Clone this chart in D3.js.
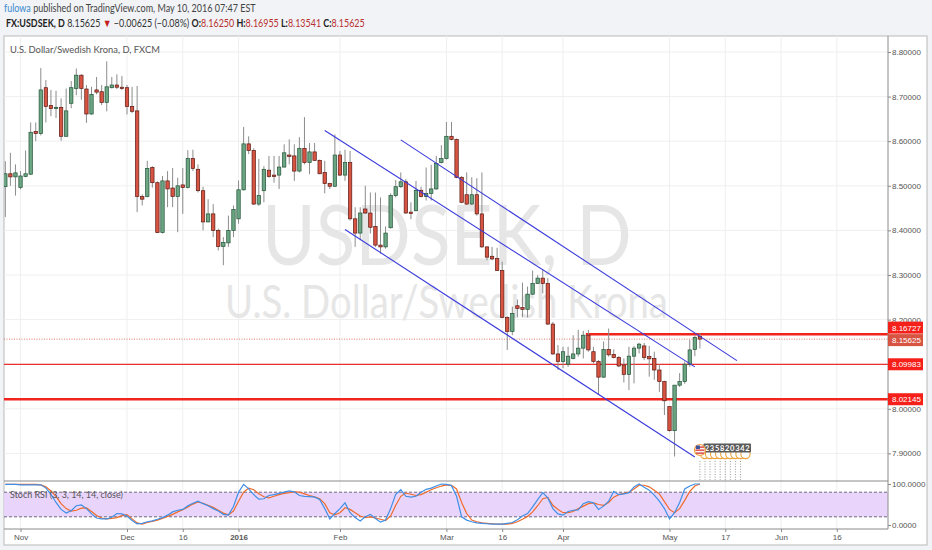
<!DOCTYPE html>
<html>
<head>
<meta charset="utf-8">
<script src="https://cdn.jsdelivr.net/npm/d3@7"></script>
<style>
  body { margin: 0; background: #f1f3f6; }
  svg { display: block; }
</style>
</head>
<body>
<div id="chart"></div>
<script>
// bar numbers: 0 is Dec 1 2015, the first candle (Oct 28) is bar -24, last is May 10 2016
var firstBar = -24;

var opens = [8.498, 8.527, 8.520, 8.496, 8.521, 8.526, 8.622, 8.617, 8.720, 8.680,
  8.673, 8.676, 8.611, 8.685, 8.718, 8.748, 8.717, 8.661, 8.715, 8.711,
  8.687, 8.720, 8.726, 8.721, 8.720, 8.678, 8.668, 8.476, 8.476, 8.541,
  8.507, 8.395, 8.511, 8.495, 8.476, 8.502, 8.496, 8.561, 8.537, 8.489,
  8.419, 8.437, 8.400, 8.364, 8.372, 8.400, 8.426, 8.491, 8.594, 8.579,
  8.459, 8.489, 8.535, 8.524, 8.524, 8.542, 8.569, 8.567, 8.533, 8.584,
  8.552, 8.576, 8.557, 8.530, 8.505, 8.499, 8.569, 8.524, 8.552, 8.426,
  8.394, 8.448, 8.439, 8.409, 8.367, 8.363, 8.406, 8.478, 8.498, 8.509,
  8.441, 8.444, 8.490, 8.476, 8.483, 8.493, 8.552, 8.561, 8.611, 8.604,
  8.519, 8.480, 8.459, 8.480, 8.437, 8.363, 8.342, 8.337, 8.310, 8.205,
  8.173, 8.231, 8.227, 8.223, 8.257, 8.281, 8.293, 8.281, 8.190, 8.123,
  8.106, 8.100, 8.113, 8.123, 8.136, 8.165, 8.128, 8.106, 8.071, 8.133,
  8.122, 8.115, 8.098, 8.077, 8.118, 8.136, 8.141, 8.117, 8.113, 8.087,
  8.061, 8.005, 7.951, 8.053, 8.061, 8.100, 8.133, 8.1625];
var highs = [8.555, 8.574, 8.548, 8.533, 8.579, 8.642, 8.642, 8.764, 8.737, 8.715,
  8.713, 8.696, 8.718, 8.735, 8.763, 8.750, 8.726, 8.722, 8.744, 8.726,
  8.779, 8.744, 8.750, 8.746, 8.726, 8.722, 8.724, 8.481, 8.556, 8.544,
  8.510, 8.522, 8.533, 8.540, 8.518, 8.540, 8.580, 8.581, 8.548, 8.498,
  8.470, 8.459, 8.404, 8.385, 8.433, 8.456, 8.512, 8.632, 8.611, 8.584,
  8.560, 8.544, 8.567, 8.567, 8.567, 8.593, 8.604, 8.593, 8.609, 8.654,
  8.596, 8.596, 8.559, 8.556, 8.507, 8.615, 8.578, 8.581, 8.578, 8.452,
  8.452, 8.500, 8.485, 8.485, 8.474, 8.409, 8.483, 8.513, 8.530, 8.515,
  8.463, 8.511, 8.498, 8.541, 8.547, 8.567, 8.591, 8.643, 8.643, 8.606,
  8.522, 8.530, 8.519, 8.517, 8.530, 8.364, 8.363, 8.361, 8.330, 8.207,
  8.229, 8.245, 8.283, 8.274, 8.310, 8.300, 8.313, 8.293, 8.195, 8.143,
  8.139, 8.139, 8.165, 8.177, 8.175, 8.177, 8.139, 8.109, 8.151, 8.180,
  8.133, 8.118, 8.113, 8.139, 8.141, 8.148, 8.148, 8.141, 8.128, 8.100,
  8.063, 8.005, 8.053, 8.080, 8.106, 8.154, 8.165, 8.16955];
var lows = [8.430, 8.500, 8.478, 8.492, 8.519, 8.524, 8.600, 8.613, 8.642, 8.656,
  8.652, 8.601, 8.611, 8.674, 8.703, 8.693, 8.641, 8.659, 8.705, 8.681,
  8.667, 8.718, 8.717, 8.715, 8.660, 8.663, 8.441, 8.456, 8.474, 8.496,
  8.394, 8.393, 8.452, 8.452, 8.396, 8.437, 8.494, 8.533, 8.485, 8.400,
  8.418, 8.385, 8.355, 8.322, 8.363, 8.385, 8.415, 8.489, 8.571, 8.457,
  8.455, 8.463, 8.518, 8.507, 8.493, 8.541, 8.548, 8.511, 8.530, 8.548,
  8.526, 8.556, 8.526, 8.483, 8.493, 8.497, 8.522, 8.511, 8.422, 8.363,
  8.378, 8.437, 8.393, 8.363, 8.348, 8.359, 8.404, 8.474, 8.495, 8.437,
  8.425, 8.443, 8.474, 8.467, 8.467, 8.491, 8.550, 8.559, 8.602, 8.517,
  8.461, 8.457, 8.457, 8.433, 8.361, 8.333, 8.333, 8.309, 8.203, 8.132,
  8.165, 8.205, 8.205, 8.205, 8.255, 8.280, 8.259, 8.188, 8.121, 8.087,
  8.091, 8.094, 8.111, 8.117, 8.113, 8.128, 8.102, 8.033, 8.069, 8.117,
  8.113, 8.093, 8.059, 8.042, 8.057, 8.124, 8.109, 8.072, 8.065, 8.038,
  7.986, 7.949, 7.893, 8.049, 8.056, 8.094, 8.118, 8.13541];
var closes = [8.527, 8.520, 8.529, 8.522, 8.527, 8.620, 8.617, 8.715, 8.678, 8.673,
  8.676, 8.611, 8.668, 8.720, 8.748, 8.718, 8.661, 8.705, 8.710, 8.687,
  8.722, 8.726, 8.721, 8.718, 8.678, 8.667, 8.476, 8.470, 8.539, 8.507,
  8.395, 8.511, 8.493, 8.476, 8.500, 8.496, 8.561, 8.539, 8.489, 8.419,
  8.437, 8.400, 8.364, 8.373, 8.400, 8.447, 8.491, 8.594, 8.579, 8.459,
  8.478, 8.537, 8.521, 8.521, 8.542, 8.574, 8.566, 8.533, 8.584, 8.552,
  8.576, 8.557, 8.527, 8.505, 8.499, 8.569, 8.524, 8.552, 8.426, 8.394,
  8.439, 8.439, 8.407, 8.367, 8.363, 8.394, 8.478, 8.498, 8.509, 8.439,
  8.438, 8.490, 8.476, 8.483, 8.493, 8.550, 8.561, 8.611, 8.604, 8.519,
  8.463, 8.459, 8.480, 8.437, 8.363, 8.340, 8.336, 8.310, 8.205, 8.173,
  8.214, 8.225, 8.223, 8.257, 8.281, 8.293, 8.281, 8.190, 8.123, 8.106,
  8.128, 8.118, 8.123, 8.136, 8.165, 8.132, 8.106, 8.071, 8.133, 8.121,
  8.115, 8.096, 8.077, 8.118, 8.136, 8.145, 8.115, 8.112, 8.087, 8.061,
  8.018, 7.951, 8.053, 8.061, 8.100, 8.132, 8.160, 8.15625];

// Stoch RSI (3, 3, 14, 14)
var stochK = [99, 99, 99, 98, 98, 98, 98, 98, 90, 75,
  55, 38, 29, 35, 47, 49, 40, 27, 17, 15,
  15, 19, 28, 27, 22, 11, 3, 4, 8, 10,
  14, 18, 24, 32, 36, 38, 47, 53, 58, 52,
  47, 40, 34, 26, 24, 45, 80, 99, 88, 74,
  63, 64, 72, 74, 77, 80, 83, 81, 72, 70,
  69, 68, 62, 40, 15, 28, 40, 54, 30, 18,
  10, 20, 26, 16, 7, 12, 40, 75, 86, 70,
  68, 70, 80, 87, 90, 95, 100, 99, 96, 70,
  20, 12, 8, 5, 4, 3, 2, 2, 2, 4,
  6, 13, 22, 28, 44, 62, 79, 66, 40, 27,
  24, 33, 36, 37, 52, 57, 54, 38, 46, 58,
  82, 74, 76, 79, 93, 100, 92, 85, 73, 58,
  40, 15, 30, 55, 88, 95, 100, 100];
var stochD = [99, 99, 99, 99, 99, 99, 99, 98, 93, 83,
  70, 52, 40, 34, 36, 41, 42, 33, 23, 17,
  15, 16, 18, 23, 25, 15, 5, 2, 6, 9,
  12, 16, 21, 26, 32, 37, 44, 51, 56, 53,
  48, 43, 36, 29, 25, 34, 58, 80, 90, 86,
  76, 69, 66, 70, 74, 77, 79, 81, 80, 76,
  72, 69, 64, 52, 30, 25, 30, 42, 38, 30,
  22, 18, 20, 17, 14, 11, 22, 48, 70, 78,
  75, 72, 74, 80, 86, 91, 95, 98, 97, 88,
  55, 28, 12, 8, 5, 4, 3, 2, 2, 2,
  4, 8, 14, 21, 32, 47, 64, 67, 48, 38,
  30, 30, 33, 40, 46, 52, 54, 50, 48, 55,
  68, 74, 77, 80, 88, 97, 97, 93, 85, 76,
  57, 38, 30, 40, 60, 82, 95, 100];

// axis ticks
var tickBars = [-21, 0, 11, 22, 42, 63, 74, 86, 107, 118, 129, 140];
var tickLabels = ['Nov', 'Dec', '16', '2016', 'Feb', 'Mar', '16', 'Apr', 'May', '17', 'Jun', '16'];
var priceTicks = [7.90, 8.00, 8.10, 8.20, 8.30, 8.40, 8.50, 8.60, 8.70, 8.80];
var stochTicks = [0, 100];

// drawings: channel lines (bar, price at both ends) and horizontal levels
var channelBars = [[39.0, 112.0], [54.0, 120.3], [43.0, 112.0]];
var channelPrices = [[8.624, 8.094], [8.603, 8.108], [8.402, 7.892]];
var levelPrices = [8.16727, 8.09983, 8.02145];
var levelStartBars = [90.5, -26, -26];
var lastPrice = 8.15625;
var eventDigits = ['2', '3', '5', '8', '2', '0', '3', '4', '2'];
var eventFirstBar = 113;

var W = 932, H = 550;
var L = 4, R = 888, T = 36, mainB = 481, rsiB = 529, frameB = 545, frameR = 927;
var font = 'Lato, "Liberation Sans", sans-serif';

var svg = d3.select('#chart').append('svg')
    .attr('width', W).attr('height', H)
    .style('font-family', font);

// squeeze a text element horizontally so it spans the given width
function fitWidth(sel, width) {
    var w = sel.node().getComputedTextLength();
    var x0 = +sel.attr('x');
    sel.attr('transform', 'translate(' + x0 + ',0) scale(' + (width / w) + ',1) translate(' + (-x0) + ',0)');
}

// scales
var x = d3.scaleLinear().domain([0, 107]).range([127, 669.5]);
var y = d3.scaleLinear().domain([7.9, 8.8]).range([453.4, 52]);
var yr = d3.scaleLinear().domain([0, 100]).range([525, 484]);

var candles = opens.map(function(o, i) {
    return { bar: firstBar + i, o: o, h: highs[i], l: lows[i], c: closes[i] };
});

// header
var h1 = svg.append('text').attr('x', 4).attr('y', 12.5).attr('font-size', 11);
h1.append('tspan').attr('fill', '#3a8ad0').text('fulowa');
h1.append('tspan').attr('fill', '#444').text(' published on TradingView.com, May 10, 2016 07:47 EST');
fitWidth(h1, 252);

var h2 = svg.append('text').attr('x', 6).attr('y', 27.5).attr('font-size', 11);
var parts = [
    ['FX:USDSEK, D', '#222', 'bold'], [' 8.15625 ', '#333', 'normal'], ['\u25BC', '#c41f1f', 'normal'],
    [' \u22120.00625 (\u22120.08%) ', '#333', 'normal'],
    ['O:', '#222', 'bold'], ['8.16250', '#b8312f', 'normal'],
    [' H:', '#222', 'bold'], ['8.16955', '#b8312f', 'normal'],
    [' L:', '#222', 'bold'], ['8.13541', '#b8312f', 'normal'],
    [' C:', '#222', 'bold'], ['8.15625', '#b8312f', 'normal']
];
parts.forEach(function(p) {
    h2.append('tspan').attr('fill', p[1]).attr('font-weight', p[2]).text(p[0]);
});
fitWidth(h2, 359);

// chart frame
svg.append('rect').attr('x', L).attr('y', T).attr('width', frameR - L).attr('height', frameB - T)
    .attr('fill', '#fff').attr('stroke', '#b9b9b9');

var defs = svg.append('defs');
defs.append('clipPath').attr('id', 'clipMain').append('rect')
    .attr('x', L).attr('y', T).attr('width', R - L).attr('height', mainB - T);
defs.append('clipPath').attr('id', 'clipRsi').append('rect')
    .attr('x', L).attr('y', mainB).attr('width', R - L).attr('height', rsiB - mainB);

// grid
var grid = svg.append('g').attr('stroke', '#efefef').attr('stroke-width', 1);
grid.selectAll('.vg').data(tickBars).enter().append('line')
    .attr('x1', function(d) { return x(d); }).attr('x2', function(d) { return x(d); })
    .attr('y1', T).attr('y2', rsiB);
grid.selectAll('.hg').data(priceTicks).enter().append('line')
    .attr('x1', L).attr('x2', R)
    .attr('y1', function(d) { return y(d); }).attr('y2', function(d) { return y(d); });

// watermark
var wm1 = svg.append('text').attr('x', 262).attr('y', 265).attr('font-size', 84)
    .attr('fill', '#e6e6e6').text('USDSEK, D');
fitWidth(wm1, 370);
var wm2 = svg.append('text').attr('x', 225).attr('y', 318).attr('font-size', 46)
    .attr('fill', '#e6e6e6').text('U.S. Dollar/Swedish Krona');
fitWidth(wm2, 443);

var title = svg.append('text').attr('x', 10).attr('y', 53.5).attr('font-size', 10)
    .attr('fill', '#555').text('U.S. Dollar/Swedish Krona, D, FXCM');
fitWidth(title, 150);

var main = svg.append('g').attr('clip-path', 'url(#clipMain)');

// horizontal levels
main.append('line').attr('x1', L).attr('x2', R)
    .attr('y1', y(lastPrice)).attr('y2', y(lastPrice))
    .attr('stroke', '#e07a72').attr('stroke-dasharray', '1,1.5');
main.selectAll('.lvl').data(levelPrices).enter().append('line')
    .attr('x1', function(d, i) { return x(levelStartBars[i]); }).attr('x2', R)
    .attr('y1', function(d) { return y(d); }).attr('y2', function(d) { return y(d); })
    .attr('stroke', function(d, i) { return i == 1 ? '#e8312c' : '#f2241e'; })
    .attr('stroke-width', function(d, i) { return i == 1 ? 1.2 : 2.4; });

// candles
main.selectAll('.wick').data(candles).enter().append('line')
    .attr('x1', function(d) { return x(d.bar); }).attr('x2', function(d) { return x(d.bar); })
    .attr('y1', function(d) { return y(d.h); }).attr('y2', function(d) { return y(d.l); })
    .attr('stroke', '#8c8c8c').attr('stroke-width', 1);
main.selectAll('.body').data(candles).enter().append('rect')
    .attr('x', function(d) { return x(d.bar) - 1.7; })
    .attr('width', 3.4)
    .attr('y', function(d) { return y(Math.max(d.o, d.c)); })
    .attr('height', function(d) { return Math.max(1, Math.abs(y(d.o) - y(d.c))); })
    .attr('fill', function(d) { return d.c >= d.o ? '#6ba583' : '#d75442'; })
    .attr('stroke', function(d) { return d.c >= d.o ? '#225437' : '#5b1a13'; })
    .attr('stroke-width', 0.7);

// channel lines
main.selectAll('.chan').data(channelBars).enter().append('line')
    .attr('x1', function(d) { return x(d[0]); }).attr('x2', function(d) { return x(d[1]); })
    .attr('y1', function(d, i) { return y(channelPrices[i][0]); })
    .attr('y2', function(d, i) { return y(channelPrices[i][1]); })
    .attr('stroke', '#3b3bdc').attr('stroke-width', 1.1);

// economic events marker
var ev = svg.append('g');
ev.selectAll('.evline').data(eventDigits).enter().append('line')
    .attr('x1', function(d, i) { return x(eventFirstBar + i); })
    .attr('x2', function(d, i) { return x(eventFirstBar + i); })
    .attr('y1', 461).attr('y2', 480)
    .attr('stroke', '#9a9a9a').attr('stroke-dasharray', '1,1.6');
ev.selectAll('.evring').data(eventDigits).enter().append('circle')
    .attr('cx', function(d, i) { return x(eventFirstBar + i) + 5; })
    .attr('cy', 454).attr('r', 4.6)
    .attr('fill', '#fff').attr('stroke', '#eda23a').attr('stroke-width', 1.1);
ev.append('rect').attr('x', x(eventFirstBar) + 3.5).attr('y', 443.5)
    .attr('width', x(eventFirstBar + eventDigits.length - 1) - x(eventFirstBar) + 7).attr('height', 9)
    .attr('fill', '#5a5a5a').attr('rx', 1);
ev.selectAll('.evtxt').data(eventDigits).enter().append('text')
    .attr('x', function(d, i) { return x(eventFirstBar + i) + 7; })
    .attr('y', 451).attr('font-size', 7.5).attr('font-weight', 'bold')
    .attr('text-anchor', 'middle').attr('fill', '#fff')
    .text(function(d) { return d; });
var fx = x(eventFirstBar);
ev.append('circle').attr('cx', fx).attr('cy', 450).attr('r', 5.5)
    .attr('fill', '#f3f3f3').attr('stroke', '#eda23a').attr('stroke-width', 1.2);
ev.append('rect').attr('x', fx - 4).attr('y', 446.5).attr('width', 8).attr('height', 1.3).attr('fill', '#d33');
ev.append('rect').attr('x', fx - 4.5).attr('y', 449.5).attr('width', 9).attr('height', 1.3).attr('fill', '#d33');
ev.append('rect').attr('x', fx - 4).attr('y', 452.5).attr('width', 8).attr('height', 1.3).attr('fill', '#d33');
ev.append('rect').attr('x', fx - 4).attr('y', 445.5).attr('width', 4).attr('height', 3.5).attr('fill', '#3a55a0');

// stoch rsi pane
var rsi = svg.append('g').attr('clip-path', 'url(#clipRsi)');
rsi.append('rect').attr('x', L).attr('width', R - L)
    .attr('y', yr(80)).attr('height', yr(20) - yr(80)).attr('fill', '#e9d5fb');
rsi.selectAll('.band').data([80, 20]).enter().append('line')
    .attr('x1', L).attr('x2', R)
    .attr('y1', function(d) { return yr(d); }).attr('y2', function(d) { return yr(d); })
    .attr('stroke', '#6e6a80').attr('stroke-dasharray', '3,2');
var stochLine = d3.line()
    .x(function(d, i) { return x(firstBar + i); })
    .y(function(d) { return yr(d); });
rsi.append('path').attr('d', stochLine(stochD)).attr('fill', 'none')
    .attr('stroke', '#f06b2a').attr('stroke-width', 1.2);
rsi.append('path').attr('d', stochLine(stochK)).attr('fill', 'none')
    .attr('stroke', '#3f8fe6').attr('stroke-width', 1.2);
var rsiTitle = svg.append('text').attr('x', 10).attr('y', 498).attr('font-size', 10)
    .attr('fill', '#555').text('Stoch RSI (3, 3, 14, 14, close)');
fitWidth(rsiTitle, 113);

// separators and axis lines
svg.append('line').attr('x1', L).attr('x2', R).attr('y1', mainB).attr('y2', mainB).attr('stroke', '#8a8a8a');
svg.append('line').attr('x1', L).attr('x2', R).attr('y1', rsiB).attr('y2', rsiB).attr('stroke', '#8a8a8a');
svg.append('line').attr('x1', R).attr('x2', R).attr('y1', T).attr('y2', rsiB).attr('stroke', '#8a8a8a');

// price axis
var yAxis = svg.append('g').attr('transform', 'translate(' + R + ',0)')
    .call(d3.axisRight(y).tickValues(priceTicks).tickFormat(d3.format('.5f')).tickSize(3).tickPadding(1));
var rAxis = svg.append('g').attr('transform', 'translate(' + R + ',0)')
    .call(d3.axisRight(yr).tickValues(stochTicks).tickFormat(d3.format('.4f')).tickSize(3).tickPadding(1));
var xAxis = svg.append('g').attr('transform', 'translate(0,' + rsiB + ')')
    .call(d3.axisBottom(x).tickValues(tickBars)
        .tickFormat(function(d, i) { return tickLabels[i]; }).tickSize(3).tickPadding(2));
[yAxis, rAxis, xAxis].forEach(function(a) {
    a.select('.domain').remove();
    a.selectAll('line').attr('stroke', '#8a8a8a');
    a.selectAll('text').attr('fill', '#555').attr('font-size', 8)
        .style('font-family', '"Liberation Sans", Arial, sans-serif');
});
xAxis.selectAll('text').attr('font-weight', function(d, i) { return tickLabels[i] == '2016' ? 'bold' : 'normal'; });

// price tags on the axis, pushed apart when they overlap
var tags = [
    { p: levelPrices[0], col: '#f5201a' },
    { p: lastPrice, col: '#d75442' },
    { p: levelPrices[1], col: '#f5201a' },
    { p: levelPrices[2], col: '#f5201a' }
];
tags.sort(function(a, b) { return a.p - b.p; });
var prevY = null;
tags.forEach(function(t) {
    t.y = y(t.p);
    if (t.p == lastPrice) t.y += 1;
    if (prevY !== null && prevY - t.y < 12.5) t.y = prevY - 12.5;
    prevY = t.y;
});
var tagG = svg.append('g').selectAll('g').data(tags).enter().append('g');
tagG.append('rect').attr('x', R).attr('y', function(d) { return d.y - 6; })
    .attr('width', 35).attr('height', 12).attr('fill', function(d) { return d.col; });
tagG.append('text').attr('x', R + 4).attr('y', function(d) { return d.y + 3; })
    .attr('font-size', 8).attr('fill', '#fff')
    .style('font-family', '"Liberation Sans", Arial, sans-serif')
    .text(function(d) { return d3.format('.5f')(d.p); });
</script>
</body>
</html>
